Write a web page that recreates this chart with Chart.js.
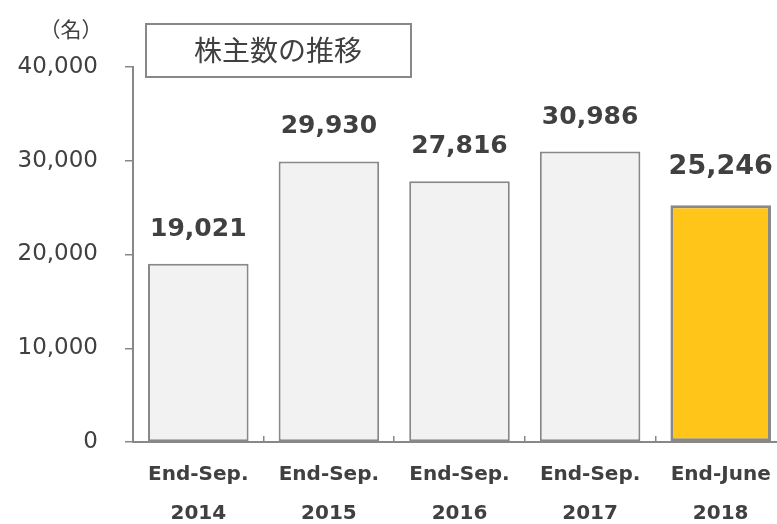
<!DOCTYPE html>
<html lang="ja">
<head>
  <meta charset="UTF-8">
  <title>株主数の推移</title>
  <script src="https://cdn.jsdelivr.net/npm/chart.js"></script>
<style>
  html, body {
    margin: 0;
    padding: 0;
    background: #ffffff;
    overflow: hidden;
  }
  .chart-wrap {
    position: relative;
    width: 786px;
    height: 524px;
  }
</style>
</head>
<body>
  <div class="chart-wrap">
    <canvas id="holdersChart"></canvas>
  </div>
  <script>
    // Chart data
    const periods = [
      ['End-Sep.', '2014'],
      ['End-Sep.', '2015'],
      ['End-Sep.', '2016'],
      ['End-Sep.', '2017'],
      ['End-June', '2018']
    ];
    const holders = [19021, 29930, 27816, 30986, 25246];
    const yTicks = [0, 10000, 20000, 30000, 40000];
    const chartTitle = '株主数の推移';
    const unitLabel = '（名）';

    const textColor = '#404040';
    const lineColor = '#888888';
    const barFill = ['#f2f2f2', '#f2f2f2', '#f2f2f2', '#f2f2f2', '#ffc619'];
    const barBorder = [2, 2, 2, 2, 3];

    // title box, unit label and value labels
    const overlayPlugin = {
      id: 'overlay',
      afterDatasetsDraw(chart) {
        const ctx = chart.ctx;
        ctx.save();

        // title box
        ctx.strokeStyle = lineColor;
        ctx.lineWidth = 2;
        ctx.strokeRect(146, 24, 265, 53);
        ctx.fillStyle = textColor;
        ctx.font = '28px "Noto Sans CJK JP"';
        ctx.textAlign = 'center';
        ctx.textBaseline = 'middle';
        ctx.fillText(chartTitle, 278, 50);

        // unit
        ctx.font = '21px "Noto Sans CJK JP"';
        ctx.fillText(unitLabel, 71, 29);

        // values above the bars
        const meta = chart.getDatasetMeta(0);
        ctx.textBaseline = 'alphabetic';
        meta.data.forEach((bar, i) => {
          const last = i === holders.length - 1;
          ctx.font = 'bold ' + (last ? 27 : 25) + 'px "DejaVu Sans"';
          ctx.fillText(holders[i].toLocaleString('en-US'), bar.x, bar.y - (last ? 31 : 28));
        });
        ctx.restore();
      }
    };

    new Chart(document.getElementById('holdersChart'), {
      type: 'bar',
      data: {
        labels: periods,
        datasets: [{
          data: holders,
          backgroundColor: barFill,
          borderColor: lineColor,
          borderWidth: barBorder,
          borderSkipped: false,
          barPercentage: 0.77,
          categoryPercentage: 1
        }]
      },
      options: {
        responsive: true,
        maintainAspectRatio: false,
        animation: false,
        layout: {
          padding: { top: 67, left: 0, right: 0, bottom: 0 }
        },
        plugins: {
          legend: { display: false },
          tooltip: { enabled: false }
        },
        scales: {
          x: {
            grid: {
              offset: true,
              drawOnChartArea: false,
              color: lineColor,
              lineWidth: 1.5,
              tickLength: -6
            },
            border: { color: lineColor, width: 2 },
            ticks: {
              color: textColor,
              padding: 19,
              maxRotation: 0,
              font: { family: 'DejaVu Sans', size: 20, weight: 'bold', lineHeight: 1.95 }
            },
            afterFit(scale) {
              scale.height = 82;
              scale.paddingLeft = 0;
              scale.paddingRight = 0;
            }
          },
          y: {
            min: yTicks[0],
            max: yTicks[yTicks.length - 1],
            afterBuildTicks(scale) {
              scale.ticks = yTicks.map(v => ({ value: v }));
            },
            grid: {
              drawOnChartArea: false,
              color: lineColor,
              lineWidth: 1.5,
              tickLength: 8
            },
            border: { color: lineColor, width: 2 },
            ticks: {
              color: textColor,
              padding: 27,
              font: { family: 'DejaVu Sans', size: 23 },
              callback: v => v.toLocaleString('en-US')
            },
            afterFit(scale) {
              scale.width = 133;
              scale.paddingTop = 0;
              scale.paddingBottom = 0;
            }
          }
        }
      },
      plugins: [overlayPlugin]
    });
  </script>
</body>
</html>
